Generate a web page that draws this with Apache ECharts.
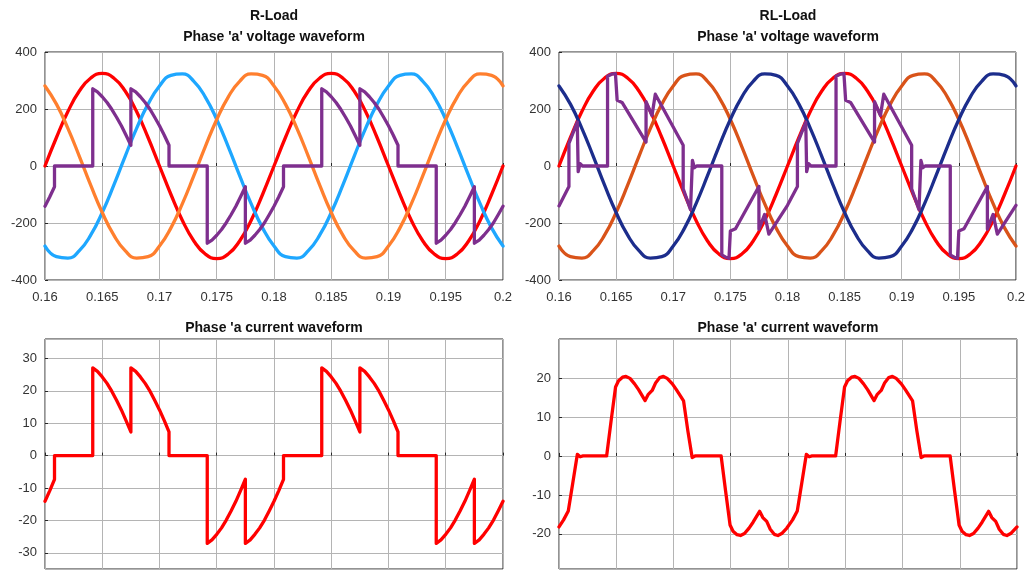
<!DOCTYPE html>
<html>
<head>
<meta charset="utf-8">
<title>R / RL load waveforms</title>
<script src="https://cdn.jsdelivr.net/npm/echarts@6/dist/echarts.min.js"></script>
<style>
  html, body { margin: 0; padding: 0; background: #fff; }
  #chart { width: 1028px; height: 572px; }
</style>
</head>
<body>
<div id="chart"></div>
<script>
// sample instants of the supply voltages (s)
var tSupply = [0.16, 0.161, 0.162, 0.163, 0.164, 0.165, 0.166, 0.167, 0.168, 0.169,
	0.17, 0.171, 0.172, 0.173, 0.174, 0.175, 0.176, 0.177, 0.178, 0.179,
	0.18, 0.181, 0.182, 0.183, 0.184, 0.185, 0.186, 0.187, 0.188, 0.189,
	0.19, 0.191, 0.192, 0.193, 0.194, 0.195, 0.196, 0.197, 0.198, 0.199, 0.2];

// supply phase voltages (V)
var vPhaseA = [0, 100, 191, 263, 309, 325, 309, 263, 191, 100, 0, -100, -191, -263, -309, -325, -309, -263, -191, -100,
	0, 100, 191, 263, 309, 325, 309, 263, 191, 100, 0, -100, -191, -263, -309, -325, -309, -263, -191, -100, 0];
var vPhaseB = [-281, -318, -323, -297, -242, -163, -68, 34, 132, 217, 281, 318, 323, 297, 242, 163, 68, -34, -132, -217,
	-281, -318, -323, -297, -242, -163, -68, 34, 132, 217, 281, 318, 323, 297, 242, 163, 68, -34, -132, -217, -281];
var vPhaseC = [281, 217, 132, 34, -68, -163, -242, -297, -323, -318, -281, -217, -132, -34, 68, 163, 242, 297, 323, 318,
	281, 217, 132, 34, -68, -163, -242, -297, -323, -318, -281, -217, -132, -34, 68, 163, 242, 297, 323, 318, 281];

// load phase 'a' voltage, R load  [t, V]
var loadVoltR = [
	[0.16,-141],[0.16042,-108],[0.16083,-73],[0.16083,0],[0.16417,0],
	[0.16417,271],[0.16458,260],[0.165,243],[0.16542,223],[0.16583,199],[0.16625,171],[0.16667,141],[0.16708,108],[0.1675,73],
	[0.1675,271],[0.16792,260],[0.16833,243],[0.16875,223],[0.16917,199],[0.16958,171],[0.17,141],[0.17042,108],[0.17083,73],
	[0.17083,0],[0.17417,0],
	[0.17417,-271],[0.17458,-260],[0.175,-243],[0.17542,-223],[0.17583,-199],[0.17625,-171],[0.17667,-141],[0.17708,-108],[0.1775,-73],
	[0.1775,-271],[0.17792,-260],[0.17833,-243],[0.17875,-223],[0.17917,-199],[0.17958,-171],[0.18,-141],[0.18042,-108],[0.18083,-73],
	[0.18083,0],[0.18417,0],
	[0.18417,271],[0.18458,260],[0.185,243],[0.18542,223],[0.18583,199],[0.18625,171],[0.18667,141],[0.18708,108],[0.1875,73],
	[0.1875,271],[0.18792,260],[0.18833,243],[0.18875,223],[0.18917,199],[0.18958,171],[0.19,141],[0.19042,108],[0.19083,73],
	[0.19083,0],[0.19417,0],
	[0.19417,-271],[0.19458,-260],[0.195,-243],[0.19542,-223],[0.19583,-199],[0.19625,-171],[0.19667,-141],[0.19708,-108],[0.1975,-73],
	[0.1975,-271],[0.19792,-260],[0.19833,-243],[0.19875,-223],[0.19917,-199],[0.19958,-171],[0.2,-141]
];

// load phase 'a' voltage, RL load  [t, V]
var loadVoltRL = [
	[0.16,-140],[0.16087,-72],[0.16087,79],[0.1616,154],[0.16168,-20],[0.16185,8],[0.16205,0],[0.16425,0],
	[0.16425,315],[0.1646,322],[0.16494,324],[0.16509,231],[0.16552,223],[0.16762,84],[0.16762,226],[0.16814,177],[0.16843,252],
	[0.17087,73],[0.17087,-80],[0.17151,-153],[0.17168,20],[0.17185,-6],[0.17205,0],[0.17425,0],
	[0.17425,-312],[0.1746,-320],[0.17488,-324],[0.175,-228],[0.17545,-220],[0.1775,-72],[0.1775,-222],[0.178,-170],[0.17837,-239],
	[0.18,-138],[0.18087,-72],[0.18087,79],[0.1816,154],[0.18168,-20],[0.18185,8],[0.18205,0],[0.18425,0],
	[0.18425,315],[0.1846,322],[0.18494,324],[0.18509,231],[0.18552,223],[0.18762,84],[0.18762,226],[0.18814,177],[0.18843,252],
	[0.19087,73],[0.19087,-80],[0.19151,-153],[0.19168,20],[0.19185,-6],[0.19205,0],[0.19425,0],
	[0.19425,-312],[0.1946,-320],[0.19488,-324],[0.195,-228],[0.19545,-220],[0.1975,-72],[0.1975,-222],[0.198,-170],[0.19837,-239],
	[0.2,-138]
];

// phase 'a' current, R load  [t, A]
var currentR = [
	[0.16,-14.1],[0.16042,-10.8],[0.16083,-7.3],[0.16083,0],[0.16417,0],
	[0.16417,27.1],[0.16458,26],[0.165,24.3],[0.16542,22.3],[0.16583,19.9],[0.16625,17.1],[0.16667,14.1],[0.16708,10.8],[0.1675,7.3],
	[0.1675,27.1],[0.16792,26],[0.16833,24.3],[0.16875,22.3],[0.16917,19.9],[0.16958,17.1],[0.17,14.1],[0.17042,10.8],[0.17083,7.3],
	[0.17083,0],[0.17417,0],
	[0.17417,-27.1],[0.17458,-26],[0.175,-24.3],[0.17542,-22.3],[0.17583,-19.9],[0.17625,-17.1],[0.17667,-14.1],[0.17708,-10.8],[0.1775,-7.3],
	[0.1775,-27.1],[0.17792,-26],[0.17833,-24.3],[0.17875,-22.3],[0.17917,-19.9],[0.17958,-17.1],[0.18,-14.1],[0.18042,-10.8],[0.18083,-7.3],
	[0.18083,0],[0.18417,0],
	[0.18417,27.1],[0.18458,26],[0.185,24.3],[0.18542,22.3],[0.18583,19.9],[0.18625,17.1],[0.18667,14.1],[0.18708,10.8],[0.1875,7.3],
	[0.1875,27.1],[0.18792,26],[0.18833,24.3],[0.18875,22.3],[0.18917,19.9],[0.18958,17.1],[0.19,14.1],[0.19042,10.8],[0.19083,7.3],
	[0.19083,0],[0.19417,0],
	[0.19417,-27.1],[0.19458,-26],[0.195,-24.3],[0.19542,-22.3],[0.19583,-19.9],[0.19625,-17.1],[0.19667,-14.1],[0.19708,-10.8],[0.1975,-7.3],
	[0.1975,-27.1],[0.19792,-26],[0.19833,-24.3],[0.19875,-22.3],[0.19917,-19.9],[0.19958,-17.1],[0.2,-14.1]
];

// phase 'a' current, RL load  [t, A]
var currentRL = [
	[0.16,-18.2],[0.1604,-16.4],[0.16081,-14.1],[0.1612,-7],[0.1616,0.4],[0.16185,-0.2],[0.1621,0],[0.16416,0],
	[0.16455,9],[0.16494,17.7],[0.1652,19.3],[0.16555,20.2],[0.16585,20.4],[0.1662,19.9],[0.1666,18.5],[0.16695,17],[0.16752,14.2],
	[0.1678,15.8],[0.16814,16.8],[0.16845,18.8],[0.1688,20.1],[0.16912,20.4],[0.16945,19.9],[0.1699,18.5],[0.17025,17],[0.17088,14.1],
	[0.17125,6.5],[0.17163,-0.4],[0.17188,0],[0.17416,0],
	[0.17455,-9],[0.17494,-17.7],[0.1752,-19.3],[0.17555,-20.2],[0.17585,-20.4],[0.1762,-19.9],[0.1766,-18.5],[0.17695,-17],[0.17752,-14.2],
	[0.1778,-15.8],[0.17814,-16.8],[0.17845,-18.8],[0.1788,-20.1],[0.17912,-20.4],[0.17945,-19.9],[0.1799,-18.5],[0.18,-18.2],
	[0.1804,-16.4],[0.18081,-14.1],[0.1812,-7],[0.1816,0.4],[0.18185,-0.2],[0.1821,0],[0.18416,0],
	[0.18455,9],[0.18494,17.7],[0.1852,19.3],[0.18555,20.2],[0.18585,20.4],[0.1862,19.9],[0.1866,18.5],[0.18695,17],[0.18752,14.2],
	[0.1878,15.8],[0.18814,16.8],[0.18845,18.8],[0.1888,20.1],[0.18912,20.4],[0.18945,19.9],[0.1899,18.5],[0.19025,17],[0.19088,14.1],
	[0.19125,6.5],[0.19163,-0.4],[0.19188,0],[0.19416,0],
	[0.19455,-9],[0.19494,-17.7],[0.1952,-19.3],[0.19555,-20.2],[0.19585,-20.4],[0.1962,-19.9],[0.1966,-18.5],[0.19695,-17],[0.19752,-14.2],
	[0.1978,-15.8],[0.19814,-16.8],[0.19845,-18.8],[0.1988,-20.1],[0.19912,-20.4],[0.19945,-19.9],[0.1999,-18.5],[0.2,-18.2]
];

var FONT = "'Liberation Sans', Arial, Helvetica, sans-serif";
var LW = 3.3;

function zip(t, v){
	var out = [];
	for (var i = 0; i < t.length; i++) {
		out.push([t[i], v[i]]);
	}
	return out;
}

function xAxisOf(idx, labels){
	return {
		type: 'value', gridIndex: idx, min: 0.16, max: 0.2, interval: 0.005,
		axisLine: { show: false },
		axisTick: { show: true, inside: true, length: 3, lineStyle: { color: '#262626' } },
		splitLine: { show: true, lineStyle: { color: '#b4b4b4', width: 1 } },
		axisLabel: {
			show: labels, color: '#333', fontSize: 13, fontFamily: FONT, margin: 11,
			formatter: function(v){ return String(+v.toFixed(3)); }
		}
	};
}

function yAxisOf(idx, min, max, extra){
	var ax = {
		type: 'value', gridIndex: idx, min: min, max: max,
		axisLine: { show: false },
		axisTick: { show: true, inside: true, length: 3, lineStyle: { color: '#262626' } },
		splitLine: { show: true, lineStyle: { color: '#b4b4b4', width: 1 } },
		axisLabel: { color: '#333', fontSize: 13, fontFamily: FONT, margin: 8,
			showMinLabel: false, showMaxLabel: false }
	};
	for (var k in extra) ax[k] = extra[k];
	return ax;
}

function lineSeries(xi, data, color){
	return {
		type: 'line', xAxisIndex: xi, yAxisIndex: xi, data: data,
		symbol: 'none', animation: false, silent: true,
		lineStyle: { color: color, width: LW, join: 'round', cap: 'round' }
	};
}

function sineSeries(xi, v, color){
	var s = lineSeries(xi, zip(tSupply, v), color);
	s.smooth = true;
	return s;
}

function title(x, y, text){
	return {
		type: 'text', x: x, y: y, silent: true,
		style: { text: text, fill: '#111', font: 'bold 14px ' + FONT, align: 'center', verticalAlign: 'middle' }
	};
}

var chart = echarts.init(document.getElementById('chart'), null, { renderer: 'canvas' });

var gridStyle = { show: true, borderColor: '#262626', borderWidth: 1, backgroundColor: '#fff' };

chart.setOption({
	backgroundColor: '#fff',
	animation: false,
	grid: [
		Object.assign({ left: 45, top: 52, width: 458, height: 228 }, gridStyle),
		Object.assign({ left: 559, top: 52, width: 458, height: 228 }, gridStyle),
		Object.assign({ left: 45, top: 339, width: 458, height: 230 }, gridStyle),
		Object.assign({ left: 559, top: 339, width: 458, height: 230 }, gridStyle)
	],
	xAxis: [xAxisOf(0, true), xAxisOf(1, true), xAxisOf(2, false), xAxisOf(3, false)],
	yAxis: [
		yAxisOf(0, -400, 400, { interval: 200, axisLabel: { color: '#333', fontSize: 13, fontFamily: FONT, margin: 8 } }),
		yAxisOf(1, -400, 400, { interval: 200, axisLabel: { color: '#333', fontSize: 13, fontFamily: FONT, margin: 8 } }),
		yAxisOf(2, -35, 36, { splitNumber: 7 }),
		yAxisOf(3, -29, 30, { splitNumber: 6 })
	],
	graphic: [
		title(274, 16, 'R-Load'),
		title(274, 37, "Phase 'a' voltage waveform"),
		title(788, 16, 'RL-Load'),
		title(788, 37, "Phase 'a' voltage waveform"),
		title(274, 328, "Phase 'a current waveform"),
		title(788, 328, "Phase 'a' current waveform")
	],
	series: [
		sineSeries(0, vPhaseA, '#ff0000'),
		sineSeries(0, vPhaseB, '#1ea7ff'),
		sineSeries(0, vPhaseC, '#ff7f2e'),
		lineSeries(0, loadVoltR, '#7e2f8e'),

		sineSeries(1, vPhaseA, '#ff0000'),
		sineSeries(1, vPhaseB, '#d95319'),
		sineSeries(1, vPhaseC, '#1c2d8c'),
		lineSeries(1, loadVoltRL, '#7e2f8e'),

		lineSeries(2, currentR, '#ff0000'),
		lineSeries(3, currentRL, '#ff0000')
	]
});
</script>
</body>
</html>
